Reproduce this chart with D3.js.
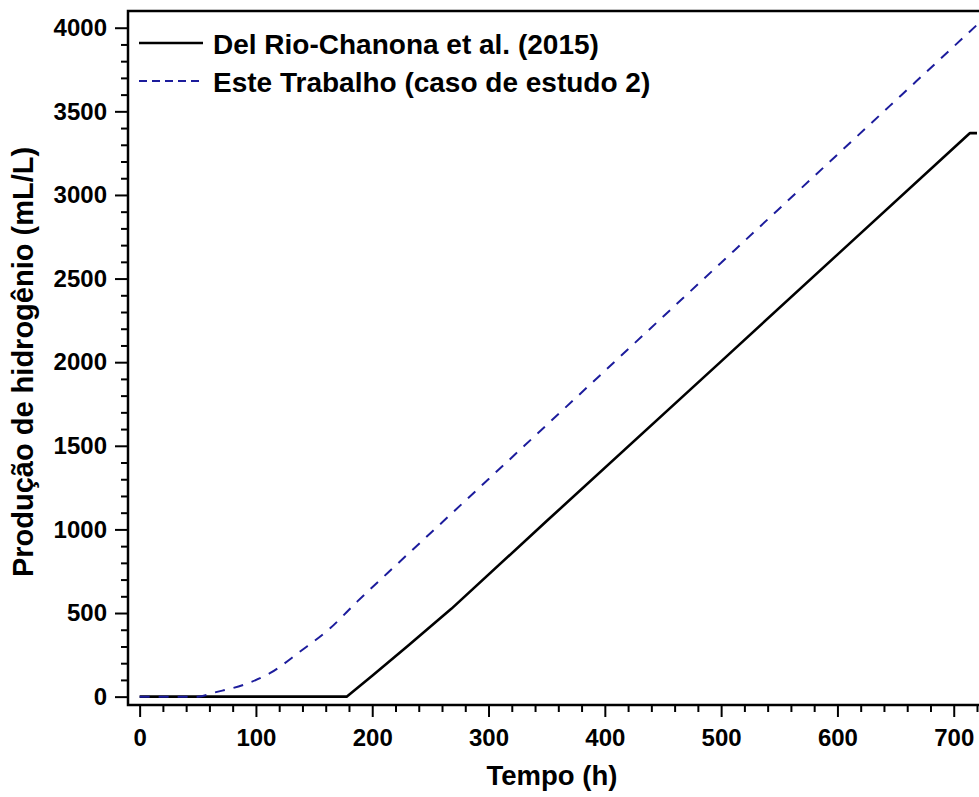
<!DOCTYPE html>
<html>
<head>
<meta charset="utf-8">
<script src="https://cdn.jsdelivr.net/npm/d3@7"></script>
<style>
  html, body { margin: 0; padding: 0; background: #fff; }
  svg { display: block; }
  text { font-family: "Liberation Sans", Arial, sans-serif; font-weight: bold; fill: #000; }
</style>
</head>
<body>
<svg id="chart" width="979" height="797"></svg>
<script>
// Hydrogen production (mL/L) versus time (h)
const delRioTime   = [0, 178, 200, 230, 268, 350, 500, 600, 714, 720];
const delRioValues = [0, 0, 125, 300, 525, 1050, 2005, 2643, 3370, 3370];

const esteTime   = [0, 50, 64, 89, 112, 138, 164, 187, 213, 250, 330, 500, 720];
const esteValues = [0, 0, 24, 70, 140, 270, 410, 568, 738, 977, 1495, 2595, 4017];

const seriesNames = ["Del Rio-Chanona et al. (2015)", "Este Trabalho (caso de estudo 2)"];

const xMajorTicks = [0, 100, 200, 300, 400, 500, 600, 700];
const yMajorTicks = [0, 500, 1000, 1500, 2000, 2500, 3000, 3500, 4000];

const xTitle = "Tempo (h)";
const yTitle = "Produção de hidrogênio (mL/L)";

const svg = d3.select("#chart");
const W = 979, H = 797;

const plotLeft = 128, plotTop = 11, plotBottom = 705;

const x = d3.scaleLinear().domain([-10, 730]).range([plotLeft, plotLeft + 740 * 1.163]);
const y = d3.scaleLinear().domain([-50, 4100]).range([plotBottom, plotTop]);

const xMinor = d3.range(0, 721, 20).filter(v => v % 100 !== 0);
const yMinor = d3.range(0, 4001, 100).filter(v => v % 500 !== 0);

// curves
const line = d3.line().x(d => x(d[0])).y(d => y(d[1]));
const delRio = delRioTime.map((t, i) => [t, delRioValues[i]]);
const este = esteTime.map((t, i) => [t, esteValues[i]]);

svg.append("path")
  .datum(delRio)
  .attr("fill", "none")
  .attr("stroke", "#000")
  .attr("stroke-width", 2.6)
  .attr("stroke-linejoin", "round")
  .attr("d", line);

svg.append("path")
  .datum(este)
  .attr("fill", "none")
  .attr("stroke", "#1c1c9c")
  .attr("stroke-width", 2)
  .attr("stroke-dasharray", "10,9")
  .attr("d", line.curve(d3.curveMonotoneX));

// axes
const xAxis = svg.append("g").attr("transform", `translate(0,${plotBottom})`)
  .call(d3.axisBottom(x).tickValues(xMajorTicks).tickSize(12).tickPadding(12).tickFormat(d3.format("d")));
const xAxisMinor = svg.append("g").attr("transform", `translate(0,${plotBottom})`)
  .call(d3.axisBottom(x).tickValues(xMinor).tickSize(7).tickFormat(""));
const yAxis = svg.append("g").attr("transform", `translate(${plotLeft},0)`)
  .call(d3.axisLeft(y).tickValues(yMajorTicks).tickSize(13).tickPadding(8).tickFormat(d3.format("d")));
const yAxisMinor = svg.append("g").attr("transform", `translate(${plotLeft},0)`)
  .call(d3.axisLeft(y).tickValues(yMinor).tickSize(7).tickFormat(""));

[xAxis, xAxisMinor, yAxis, yAxisMinor].forEach(g => {
  g.select(".domain").remove();
  g.selectAll(".tick line").attr("stroke", "#000").attr("stroke-width", 2);
});
[xAxis, yAxis].forEach(g => {
  g.selectAll(".tick text")
    .attr("font-size", 24)
    .attr("font-family", "Liberation Sans, Arial, sans-serif")
    .attr("font-weight", "bold")
    .attr("fill", "#000");
});

// frame lines: left, bottom, top
svg.append("path")
  .attr("d", `M${W},${plotTop}H${plotLeft}V${plotBottom}H${W}`)
  .attr("fill", "none")
  .attr("stroke", "#000")
  .attr("stroke-width", 2.5);

// titles
svg.append("text")
  .attr("x", 552)
  .attr("y", 785)
  .attr("text-anchor", "middle")
  .attr("font-size", 27.5)
  .text(xTitle);

svg.append("text")
  .attr("transform", `translate(33,362) rotate(-90)`)
  .attr("text-anchor", "middle")
  .attr("font-size", 29)
  .text(yTitle);

// legend
const legend = svg.append("g");
const legendRows = [
  { name: seriesNames[0], color: "#000", width: 2.6, dash: null, y: 43 },
  { name: seriesNames[1], color: "#1c1c9c", width: 2, dash: "8,5", y: 81 }
];
legendRows.forEach(r => {
  legend.append("line")
    .attr("x1", 139).attr("x2", 203)
    .attr("y1", r.y).attr("y2", r.y)
    .attr("stroke", r.color)
    .attr("stroke-width", r.width)
    .attr("stroke-dasharray", r.dash);
  legend.append("text")
    .attr("x", 213)
    .attr("y", r.y + 11)
    .attr("font-size", 28)
    .text(r.name);
});
</script>
</body>
</html>
